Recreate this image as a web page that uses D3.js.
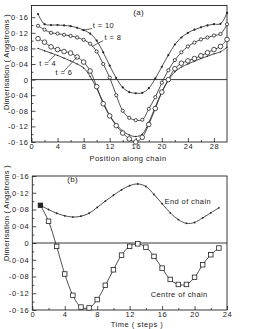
<!DOCTYPE html>
<html>
<head>
<meta charset="utf-8">
<script src="https://cdn.jsdelivr.net/npm/d3@7"></script>
<style>
  body { margin: 0; background: #fff; }
  svg { display: block; }
  text { font-family: "Liberation Sans", Arial, sans-serif; fill: #222; }
</style>
</head>
<body>
<svg id="chart" width="268" height="329"></svg>
<script>
// panel (a): dimerisation along the chain at several times
const positions = d3.range(1, 31)
const dimT4 = [0.080, 0.074, 0.068, 0.062, 0.055, 0.048, 0.040, 0.030, 0.008, -0.022,
  -0.058, -0.092, -0.115, -0.132, -0.142, -0.146, -0.140, -0.110, -0.070, -0.032,
  -0.002, 0.020, 0.032, 0.040, 0.047, 0.054, 0.060, 0.066, 0.071, 0.083]
const dimT6 = [0.105, 0.096, 0.084, 0.077, 0.072, 0.068, 0.058, 0.045, 0.022, -0.018,
  -0.062, -0.093, -0.118, -0.137, -0.152, -0.160, -0.148, -0.115, -0.074, -0.032,
  0.000, 0.028, 0.042, 0.048, 0.054, 0.061, 0.069, 0.077, 0.085, 0.103]
const dimT8 = [0.138, 0.128, 0.120, 0.118, 0.115, 0.112, 0.108, 0.102, 0.092, 0.072,
  0.040, 0.005, -0.040, -0.080, -0.098, -0.104, -0.103, -0.075, -0.045, -0.008,
  0.024, 0.050, 0.070, 0.085, 0.095, 0.103, 0.108, 0.113, 0.117, 0.142]
const dimT10 = [0.168, 0.142, 0.140, 0.140, 0.139, 0.137, 0.133, 0.127, 0.118, 0.100,
  0.070, 0.036, 0.004, -0.020, -0.032, -0.035, -0.034, -0.022, 0.003, 0.033,
  0.063, 0.090, 0.108, 0.120, 0.128, 0.134, 0.139, 0.142, 0.143, 0.171]

// panel (b): dimerisation against time
const steps = d3.range(1, 24)
const endOfChain = [0.090, 0.080, 0.071, 0.065, 0.062, 0.064, 0.071, 0.085, 0.100, 0.114,
  0.127, 0.137, 0.141, 0.135, 0.116, 0.094, 0.072, 0.056, 0.047, 0.049,
  0.060, 0.072, 0.084]
const centreOfChain = [0.090, 0.052, -0.008, -0.074, -0.125, -0.153, -0.155, -0.135, -0.101, -0.064,
  -0.029, -0.008, -0.002, -0.010, -0.032, -0.060, -0.087, -0.099, -0.099, -0.082,
  -0.052, -0.028, -0.012]

const xTicksA = [0, 4, 8, 12, 16, 20, 24, 28]
const xTicksB = [0, 4, 8, 12, 16, 20, 24]
const yTicks = [-0.16, -0.12, -0.08, -0.04, 0, 0.04, 0.08, 0.12, 0.16]

const ink = "#222"
const svg = d3.select("#chart")

const fmtY = v => v === 0 ? "0" : d3.format(".2f")(v).replace("\u2212", "-").replace(".", "\u00b7")

function panel(opts) {
  const {x, y, xTicks, xMinor, yMinor} = opts
  const g = svg.append("g")
  const [x0, x1] = x.range()
  const [yb, yt] = y.range()

  g.append("rect")
    .attr("x", x0).attr("y", yt)
    .attr("width", x1 - x0).attr("height", yb - yt)
    .attr("fill", "none").attr("stroke", ink).attr("stroke-width", 0.9)

  // minor ticks
  g.append("g").attr("transform", `translate(0,${yb})`)
    .call(d3.axisBottom(x).tickValues(xMinor).tickSize(-2).tickFormat(""))
    .call(a => a.select(".domain").remove())
  g.append("g").attr("transform", `translate(${x0},0)`)
    .call(d3.axisLeft(y).tickValues(yMinor).tickSize(-2).tickFormat(""))
    .call(a => a.select(".domain").remove())

  // major ticks
  g.append("g").attr("transform", `translate(0,${yb})`)
    .call(d3.axisBottom(x).tickValues(xTicks).tickSize(-4).tickPadding(1.5).tickFormat(d3.format("d")))
    .call(a => a.select(".domain").remove())
  g.append("g").attr("transform", `translate(${x0},0)`)
    .call(d3.axisLeft(y).tickValues(yTicks).tickSize(-4).tickPadding(3).tickFormat(fmtY))
    .call(a => a.select(".domain").remove())

  g.selectAll(".tick line").attr("stroke", ink).attr("stroke-width", 0.8)
  g.selectAll(".tick text")
    .attr("font-family", null).attr("font-size", 7.5)
    .attr("letter-spacing", 0.6).attr("fill", ink)

  // zero line
  g.append("line")
    .attr("x1", x0).attr("x2", x1)
    .attr("y1", y(0)).attr("y2", y(0))
    .attr("stroke", ink).attr("stroke-width", 0.9)

  return g
}

function series(g, x, y, xs, ys, marker) {
  const pts = xs.map((d, i) => [d, ys[i]])
  const line = d3.line().curve(d3.curveCatmullRom)
    .x(d => x(d[0])).y(d => y(d[1]))
  g.append("path").datum(pts)
    .attr("d", line).attr("fill", "none")
    .attr("stroke", ink).attr("stroke-width", 0.8)

  const m = g.append("g").selectAll("g").data(pts).join("g")
    .attr("transform", d => `translate(${x(d[0])},${y(d[1])})`)
  if (marker.type === "dot") {
    m.append("circle").attr("r", marker.size).attr("fill", ink)
  } else if (marker.type === "circle") {
    m.append("circle").attr("r", marker.size)
      .attr("fill", "#fff").attr("stroke", ink).attr("stroke-width", 0.8)
  } else if (marker.type === "square") {
    m.append("rect")
      .attr("x", -marker.size / 2).attr("y", -marker.size / 2)
      .attr("width", marker.size).attr("height", marker.size)
      .attr("fill", (d, i) => i === 0 ? ink : "#fff")
      .attr("stroke", ink).attr("stroke-width", 0.8)
  }
}

function note(g, x, y, n) {
  if (n.lead) {
    g.append("line")
      .attr("x1", x(n.lead[0])).attr("y1", y(n.lead[1]))
      .attr("x2", x(n.lead[2])).attr("y2", y(n.lead[3]))
      .attr("stroke", ink).attr("stroke-width", 0.7)
  }
  g.append("text")
    .attr("x", x(n.at[0])).attr("y", y(n.at[1]))
    .attr("font-size", n.size || 7.5)
    .attr("letter-spacing", 0.4)
    .text(n.text)
}

function yTitle(cy) {
  svg.append("text")
    .attr("transform", `translate(9,${cy}) rotate(-90)`)
    .attr("text-anchor", "middle")
    .attr("font-size", 7.5)
    .attr("letter-spacing", 0.3)
    .text("Dimerisation ( Angstroms )")
}

// ---------- panel (a)
const xA = d3.scaleLinear().domain([0, 30]).range([31.5, 227])
const yA = d3.scaleLinear().domain([-0.16, 0.19]).range([142, 5.5])
const gA = panel({
  x: xA, y: yA, xTicks: xTicksA,
  xMinor: d3.range(2, 30, 4),
  yMinor: d3.range(-0.14, 0.17, 0.04)
})

series(gA, xA, yA, positions, dimT4, {type: "dot", size: 0.7})
series(gA, xA, yA, positions, dimT6, {type: "circle", size: 2.3})
series(gA, xA, yA, positions, dimT8, {type: "circle", size: 1.6})
series(gA, xA, yA, positions, dimT10, {type: "dot", size: 1.1})

const notesA = [
  {text: "t = 10", at: [9.4, 0.133], lead: [9.3, 0.131, 7.7, 0.126]},
  {text: "t = 8", at: [11.2, 0.102], lead: [11.0, 0.1, 9.3, 0.085]},
  {text: "t = 4", at: [1.2, 0.036], lead: [2.6, 0.046, 3.6, 0.063]},
  {text: "t = 6", at: [3.7, 0.011], lead: [5.0, 0.022, 7.0, 0.058]},
  {text: "(a)", at: [15.6, 0.165], size: 8}
]
notesA.forEach(n => note(gA, xA, yA, n))

svg.append("text")
  .attr("x", 128).attr("y", 160.5)
  .attr("text-anchor", "middle").attr("font-size", 7.5).attr("letter-spacing", 0.5)
  .text("Position along chain")
yTitle(62)

// ---------- panel (b)
const xB = d3.scaleLinear().domain([0, 24]).range([32.3, 227])
const yB = d3.scaleLinear().domain([-0.16, 0.16]).range([310, 176])
const gB = panel({
  x: xB, y: yB, xTicks: xTicksB,
  xMinor: d3.range(2, 24, 4),
  yMinor: d3.range(-0.14, 0.16, 0.04)
})

series(gB, xB, yB, steps, endOfChain, {type: "dot", size: 0.9})
series(gB, xB, yB, steps, centreOfChain, {type: "square", size: 4.5})

const notesB = [
  {text: "(b)", at: [4.3, 0.145], size: 8},
  {text: "End of chain", at: [16.3, 0.094]},
  {text: "Centre of chain", at: [14.6, -0.13]}
]
notesB.forEach(n => note(gB, xB, yB, n))

svg.append("text")
  .attr("x", 137).attr("y", 327)
  .attr("text-anchor", "middle").attr("font-size", 7.5).attr("letter-spacing", 0.5)
  .text("Time ( steps )")
yTitle(213)
</script>
</body>
</html>
